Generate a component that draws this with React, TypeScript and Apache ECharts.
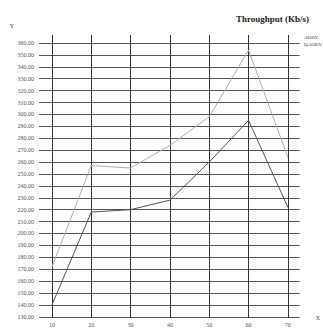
import React, { useEffect, useRef } from "react";
import * as echarts from "echarts";

const xValues = [10, 20, 30, 40, 50, 60, 70];
const aodv = [172, 257, 255, 274, 298, 354, 264];
const qaodv = [140, 218, 220, 228, 260, 295, 222];
const yTicks = [130, 140, 150, 160, 170, 180, 190, 200, 210, 220, 230, 240, 250, 260, 270, 280, 290, 300, 310, 320, 330, 340, 350, 360];
const seriesNames = ["AODV", "QAODV"];
const titleText = "Throughput (Kb/s)";

const serif = "'Liberation Serif', 'DejaVu Serif', serif";

export default function App() {
  const ref = useRef<HTMLDivElement>(null);
  useEffect(() => {
    if (!ref.current) return;
    const chart = echarts.init(ref.current, null, { renderer: "svg" });
    chart.setOption({
      animation: false,
      backgroundColor: "#ffffff",
      title: {
        text: titleText,
        left: 231,
        top: 9,
        textStyle: { fontFamily: serif, fontSize: 9, fontWeight: "bold", color: "#222" },
      },
      legend: {
        data: seriesNames.map((n) => ({ name: n, icon: "none" })),
        orient: "vertical",
        left: 304,
        top: 35,
        itemGap: 2,
        itemWidth: 0,
        itemHeight: 0,
        padding: 0,
        textStyle: { fontFamily: serif, fontSize: 5, color: "#333", padding: [0, 0, 0, -5] },
      },
      grid: { left: 39, right: 20, top: 35, bottom: 16, containLabel: false },
      xAxis: {
        type: "value",
        min: 6.7,
        max: 73,
        name: "X",
        nameLocation: "end",
        nameGap: 16,
        nameTextStyle: { fontFamily: serif, fontSize: 6, color: "#444" },
        axisLine: { show: false },
        axisTick: { show: false, customValues: xValues },
        axisLabel: {
          customValues: xValues,
          fontFamily: serif,
          fontSize: 6,
          color: "#555",
          margin: 4,
        },
        splitLine: { show: true, lineStyle: { color: "#333", width: 1 } },
      },
      yAxis: {
        type: "value",
        min: 129,
        max: 366.7,
        name: "Y",
        nameLocation: "end",
        nameGap: 6,
        nameTextStyle: { fontFamily: serif, fontSize: 6, color: "#444", align: "right", padding: [0, 25, 0, 0] },
        axisLine: { show: false },
        axisTick: { show: false, customValues: yTicks },
        axisLabel: {
          customValues: yTicks,
          fontFamily: serif,
          fontSize: 6,
          color: "#555",
          margin: 5,
          formatter: (v: number) => v.toFixed(2),
        },
        splitLine: { show: true, lineStyle: { color: "#555", width: 1.2 } },
      },
      series: [
        {
          name: seriesNames[0],
          type: "line",
          data: xValues.map((x, i) => [x, aodv[i]]),
          showSymbol: false,
          symbol: "none",
          lineStyle: { color: "#b0b0b0", width: 1 },
          itemStyle: { color: "#b0b0b0" },
        },
        {
          name: seriesNames[1],
          type: "line",
          data: xValues.map((x, i) => [x, qaodv[i]]),
          showSymbol: false,
          symbol: "none",
          lineStyle: { color: "#555555", width: 1 },
          itemStyle: { color: "#555555" },
        },
      ],
    });
    return () => chart.dispose();
  }, []);
  return (
    <div
      ref={ref}
      style={{ position: "fixed", left: 0, top: 0, width: 323, height: 334 }}
    />
  );
}
